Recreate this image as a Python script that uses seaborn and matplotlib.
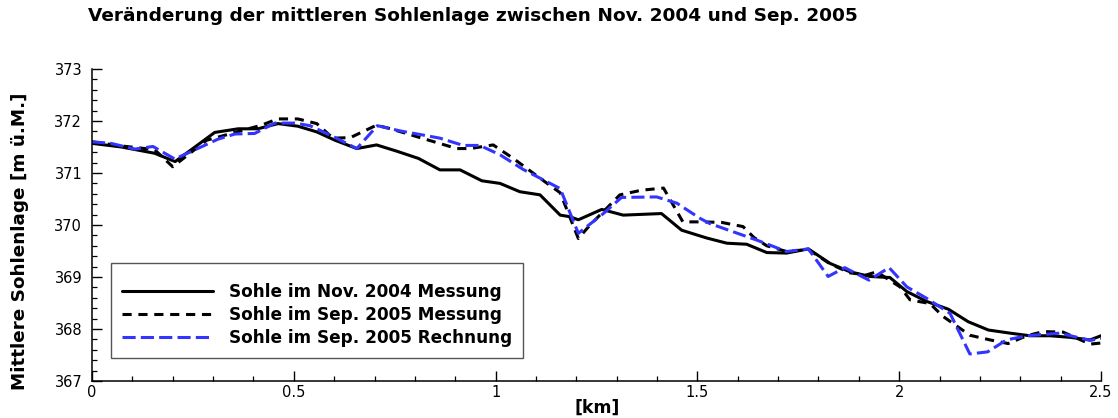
import matplotlib
matplotlib.use("Agg")
import matplotlib.pyplot as plt
from matplotlib.ticker import MultipleLocator
import seaborn as sns
import pandas as pd

# Sohle im Nov. 2004 (Messung)
km_nov04 = [0, 0.073, 0.155, 0.206, 0.304, 0.362, 0.411, 0.461, 0.51, 0.557,
            0.602, 0.656, 0.705, 0.755, 0.809, 0.862, 0.912, 0.966, 1.011, 1.06,
            1.11, 1.16, 1.184, 1.205, 1.263, 1.316, 1.411, 1.461, 1.523, 1.573,
            1.622, 1.672, 1.721, 1.775, 1.829, 1.878, 1.928, 1.977, 2.019, 2.068,
            2.122, 2.171, 2.221, 2.275, 2.324, 2.374, 2.423, 2.473, 2.5]
z_nov04 = [371.57, 371.50, 371.38, 371.22, 371.78, 371.85, 371.85, 371.95, 371.90, 371.79,
           371.63, 371.47, 371.54, 371.42, 371.28, 371.06, 371.06, 370.85, 370.80, 370.64,
           370.58, 370.19, 370.16, 370.10, 370.30, 370.19, 370.22, 369.90, 369.75, 369.65,
           369.63, 369.47, 369.46, 369.54, 369.26, 369.10, 369.01, 368.99, 368.72, 368.53,
           368.38, 368.14, 367.98, 367.92, 367.87, 367.87, 367.84, 367.79, 367.87]

# Sohle im Sep. 2005 (Messung)
km_sep05_mess = [0, 0.073, 0.155, 0.2, 0.284, 0.42, 0.46, 0.51, 0.557, 0.597,
                 0.64, 0.705, 0.74, 0.813, 0.904, 0.937, 0.994, 1.044, 1.11, 1.16,
                 1.205, 1.234, 1.275, 1.308, 1.362, 1.416, 1.464, 1.51, 1.56, 1.613,
                 1.64, 1.672, 1.721, 1.775, 1.829, 1.878, 1.919, 1.944, 2.002, 2.027,
                 2.076, 2.109, 2.175, 2.225, 2.27, 2.316, 2.357, 2.406, 2.473, 2.5]
z_sep05_mess = [371.60, 371.52, 371.45, 371.12, 371.63, 371.92, 372.04, 372.04, 371.95, 371.67,
                371.68, 371.92, 371.85, 371.68, 371.47, 371.47, 371.54, 371.28, 370.90, 370.62,
                369.74, 370.00, 370.32, 370.58, 370.67, 370.71, 370.06, 370.06, 370.05, 369.97,
                369.76, 369.60, 369.49, 369.53, 369.25, 369.08, 369.04, 369.10, 368.81, 368.56,
                368.49, 368.24, 367.88, 367.79, 367.72, 367.87, 367.95, 367.94, 367.71, 367.73]

# Sohle im Sep. 2005 (Rechnung)
km_sep05_rech = [0, 0.047, 0.106, 0.151, 0.205, 0.245, 0.312, 0.354, 0.403, 0.453,
                 0.502, 0.54, 0.598, 0.656, 0.707, 0.763, 0.813, 0.862, 0.92, 0.961,
                 1.011, 1.068, 1.16, 1.205, 1.267, 1.312, 1.399, 1.449, 1.506, 1.53,
                 1.647, 1.721, 1.775, 1.824, 1.865, 1.925, 1.975, 2.019, 2.068, 2.126,
                 2.175, 2.219, 2.266, 2.316, 2.398, 2.473, 2.5]
z_sep05_rech = [371.60, 371.57, 371.46, 371.51, 371.27, 371.41, 371.65, 371.75, 371.76, 371.96,
                371.96, 371.91, 371.70, 371.47, 371.91, 371.81, 371.74, 371.67, 371.53, 371.53,
                371.35, 371.07, 370.70, 369.84, 370.22, 370.53, 370.54, 370.42, 370.13, 370.03,
                369.71, 369.49, 369.54, 369.01, 369.18, 368.94, 369.18, 368.81, 368.59, 368.30,
                367.52, 367.56, 367.79, 367.87, 367.92, 367.78, 367.82]

labels = ["Sohle im Nov. 2004 Messung",
          "Sohle im Sep. 2005 Messung",
          "Sohle im Sep. 2005 Rechnung"]

sns.set_theme(style="ticks")
plt.rcParams["font.family"] = ["DejaVu Sans"]
plt.rcParams["text.color"] = "black"
plt.rcParams["axes.labelcolor"] = "black"

fig = plt.figure(figsize=(11.18, 4.18), dpi=100)
ax = fig.add_axes([92 / 1118, 1 - 381 / 418, 1009 / 1118, 312 / 418])

df1 = pd.DataFrame({"km": km_nov04, "z": z_nov04})
df2 = pd.DataFrame({"km": km_sep05_mess, "z": z_sep05_mess})
df3 = pd.DataFrame({"km": km_sep05_rech, "z": z_sep05_rech})

sns.lineplot(data=df1, x="km", y="z", ax=ax, color="black", linewidth=2.2,
             label=labels[0], sort=False, linestyle="-")
sns.lineplot(data=df2, x="km", y="z", ax=ax, color="black", linewidth=2.2,
             label=labels[1], sort=False, linestyle=(0, (3.0, 2.2)))
sns.lineplot(data=df3, x="km", y="z", ax=ax, color="#3434ff", linewidth=2.2,
             label=labels[2], sort=False, linestyle=(0, (4.3, 1.7)))

ax.set_xlim(0, 2.5)
ax.set_ylim(367, 373)
ax.xaxis.set_minor_locator(MultipleLocator(0.1))
ax.yaxis.set_major_locator(MultipleLocator(1))
ax.yaxis.set_minor_locator(MultipleLocator(0.2))
ax.set_xticks([0, 0.5, 1, 1.5, 2, 2.5], ["0", "0.5", "1", "1.5", "2", "2.5"])

for side in ("top", "right"):
    ax.spines[side].set_visible(False)
for side in ("left", "bottom"):
    ax.spines[side].set_linewidth(1.1)
    ax.spines[side].set_color("black")

ax.tick_params(which="major", direction="in", length=7.2, width=1.0,
               labelsize=10.5, colors="black", labelcolor="black")
ax.tick_params(which="minor", direction="in", length=3.6, width=0.9, colors="black")
ax.tick_params(axis="y", which="major", pad=7)
ax.tick_params(axis="x", which="major", pad=3)

ax.set_xlabel("")
ax.set_ylabel("")
fig.text(597 / 1118, 1 - 408 / 418, "[km]", ha="center", va="center",
         fontsize=12.5, fontweight="bold", color="black")
fig.text(20.5 / 1118, 1 - 241 / 418, "Mittlere Sohlenlage [m ü.M.]", rotation=90,
         ha="center", va="center", fontsize=13.2, fontweight="bold", color="black")
fig.text(88 / 1118, 1 - 21 / 418,
         "Veränderung der mittleren Sohlenlage zwischen Nov. 2004 und Sep. 2005",
         ha="left", va="baseline", fontsize=13.3, fontweight="bold", color="black")

leg = ax.legend(loc="lower left", bbox_to_anchor=(0.0185, 0.074),
                borderaxespad=0, frameon=True, fancybox=False,
                handlelength=5.4, handletextpad=0.95, labelspacing=0.28,
                borderpad=0.65, prop={"weight": "bold", "size": 12.2},
                title=" ", title_fontsize=3.5, labelcolor="black")
leg.get_frame().set_edgecolor("#555555")
leg.get_frame().set_linewidth(1.0)
leg.get_frame().set_facecolor("white")
leg.get_frame().set_alpha(1)

fig.savefig("out.png", dpi=100, facecolor="white")
